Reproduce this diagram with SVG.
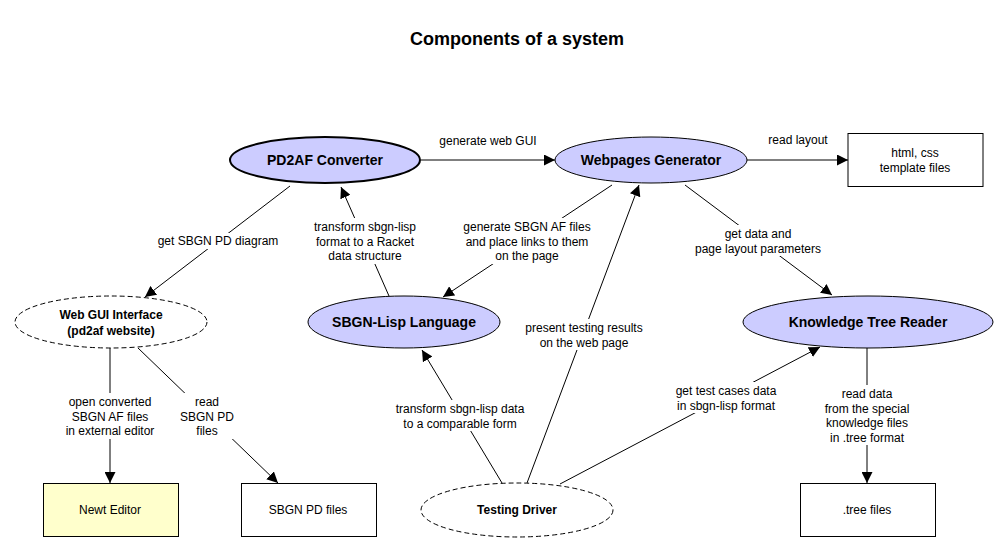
<svg xmlns="http://www.w3.org/2000/svg" width="1008" height="551" viewBox="0 0 1008 551">
<defs>
<marker id="arr" viewBox="0 0 11 11" markerWidth="11" markerHeight="11" markerUnits="userSpaceOnUse" refX="11" refY="5.5" orient="auto">
<path d="M0,0 L11,5.5 L0,11 z" fill="#000"/>
</marker>
</defs>
<style>
text{font-family:"Liberation Sans",Arial,sans-serif;fill:#000}
.t{font-size:18px;font-weight:bold;text-anchor:middle}
.nl{font-size:14px;font-weight:bold;text-anchor:middle}
.ns{font-size:12px;font-weight:bold;text-anchor:middle}
.rl{font-size:12px;text-anchor:middle}
.el{font-size:12px;text-anchor:middle}
.e{stroke:#000;stroke-width:1;fill:none;marker-end:url(#arr)}
.bg{fill:#fff}
.comp{fill:#ccccff;stroke:#000;stroke-width:1}
.thick{stroke-width:2}
.dash{fill:#fff;stroke:#000;stroke-width:1;stroke-dasharray:5,3}
.box{fill:#fff;stroke:#000;stroke-width:1}
.yel{fill:#ffffcc}
</style>
<rect width="1008" height="551" fill="#fff"/>
<text class="t" x="517" y="45">Components of a system</text>

<g id="connectors">
<g id="e-pd2af-web"><path class="e" d="M421,160 L555,160"/><text class="el" x="488" y="145">generate web GUI</text></g>
<g id="e-web-html"><path class="e" d="M747,160 L848,160"/><text class="el" x="798" y="144">read layout</text></g>
<g id="e-pd2af-gui"><path class="e" d="M290,186 L145,297"/><rect class="bg" x="157" y="233" width="123" height="16"/><text class="el" x="218" y="245">get SBGN PD diagram</text></g>
<g id="e-lisp-pd2af"><path class="e" d="M389,296 L341,187"/><rect class="bg" x="307" y="218" width="116" height="46"/><text class="el" x="365" y="231">transform sbgn-lisp</text><text class="el" x="365" y="245.5">format to a Racket</text><text class="el" x="365" y="260">data structure</text></g>
<g id="e-web-lisp"><path class="e" d="M612,185 L443,297"/><rect class="bg" x="460" y="218" width="134" height="46"/><text class="el" x="527" y="231">generate SBGN AF files</text><text class="el" x="527" y="245.5">and place links to them</text><text class="el" x="527" y="260">on the page</text></g>
<g id="e-web-ktr"><path class="e" d="M685,185 L832,295"/><rect class="bg" x="692" y="225" width="132" height="31"/><text class="el" x="758" y="238">get data and</text><text class="el" x="758" y="252.5">page layout parameters</text></g>
<g id="e-gui-newt"><path class="e" d="M110,348 L110,483"/><rect class="bg" x="62" y="393" width="96" height="46"/><text class="el" x="110" y="406">open converted</text><text class="el" x="110" y="420.5">SBGN AF files</text><text class="el" x="110" y="435">in external editor</text></g>
<g id="e-gui-pd"><path class="e" d="M138,348 L278,483"/><rect class="bg" x="175" y="393" width="62" height="46"/><text class="el" x="207" y="406">read</text><text class="el" x="207" y="420.5">SBGN PD</text><text class="el" x="207" y="435">files</text></g>
<g id="e-test-web"><path class="e" d="M527,483 L639,185"/><rect class="bg" x="520" y="319" width="128" height="31"/><text class="el" x="584" y="332">present testing results</text><text class="el" x="584" y="346.5">on the web page</text></g>
<g id="e-test-lisp"><path class="e" d="M502,483 L422,350"/><rect class="bg" x="393" y="400" width="134" height="31"/><text class="el" x="460" y="413">transform sbgn-lisp data</text><text class="el" x="460" y="427.5">to a comparable form</text></g>
<g id="e-test-ktr"><path class="e" d="M560,484 L820,347"/><rect class="bg" x="673" y="382" width="106" height="31"/><text class="el" x="726" y="395">get test cases data</text><text class="el" x="726" y="409.5">in sbgn-lisp format</text></g>
<g id="e-ktr-tree"><path class="e" d="M867,348 L867,483"/><rect class="bg" x="820" y="385" width="94" height="60"/><text class="el" x="867" y="398">read data</text><text class="el" x="867" y="412.5">from the special</text><text class="el" x="867" y="427">knowledge files</text><text class="el" x="867" y="441.5">in .tree format</text></g>
</g>

<g id="pd2af"><ellipse class="comp thick" cx="325" cy="160" rx="95" ry="23"/><text class="nl" x="325" y="165">PD2AF Converter</text></g>
<g id="webgen"><ellipse class="comp" cx="651" cy="160" rx="96" ry="23"/><text class="nl" x="651" y="165">Webpages Generator</text></g>
<g id="html"><rect class="box" x="848" y="133.5" width="135" height="53"/><text class="rl" x="915" y="157">html, css</text><text class="rl" x="915" y="172">template files</text></g>
<g id="webgui"><ellipse class="dash" cx="111" cy="322" rx="96" ry="26"/><text class="ns" x="111" y="319">Web GUI Interface</text><text class="ns" x="111" y="335">(pd2af website)</text></g>
<g id="lisp"><ellipse class="comp" cx="404" cy="322" rx="96" ry="26"/><text class="nl" x="404" y="327">SBGN-Lisp Language</text></g>
<g id="ktr"><ellipse class="comp" cx="868" cy="322" rx="125" ry="26"/><text class="nl" x="868" y="327">Knowledge Tree Reader</text></g>
<g id="newt"><rect class="box yel" x="43.5" y="483.5" width="135" height="53"/><text class="rl" x="110" y="514">Newt Editor</text></g>
<g id="pdfiles"><rect class="box" x="241.5" y="483.5" width="135" height="53"/><text class="rl" x="308" y="514">SBGN PD files</text></g>
<g id="testing"><ellipse class="dash" cx="517" cy="510" rx="96" ry="27"/><text class="ns" x="517" y="514">Testing Driver</text></g>
<g id="tree"><rect class="box" x="800.5" y="483.5" width="135" height="53"/><text class="rl" x="867" y="514">.tree files</text></g>
</svg>
